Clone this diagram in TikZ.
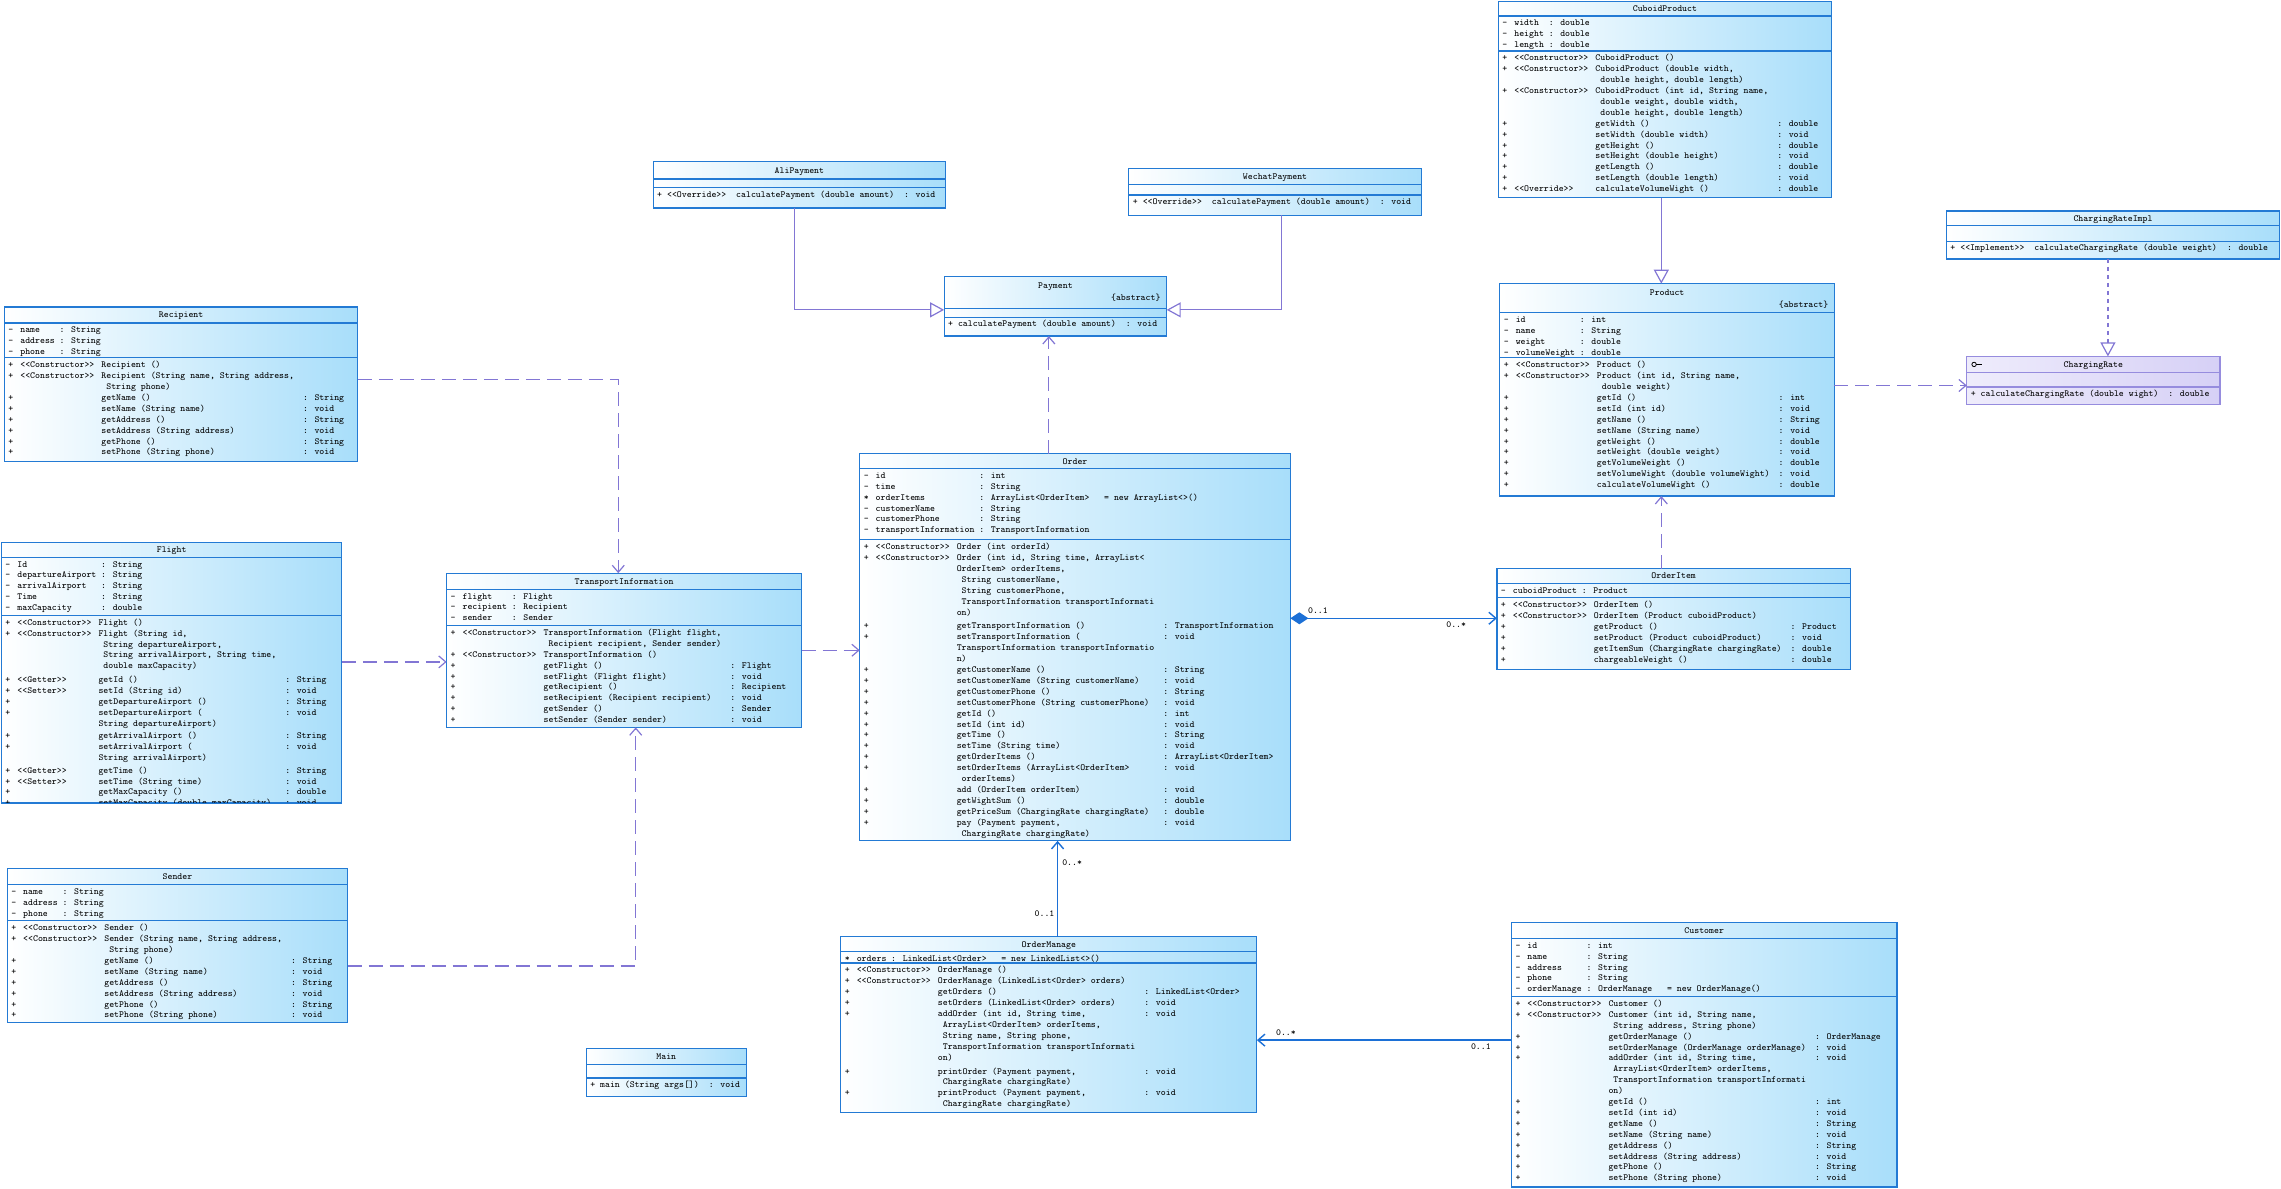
\documentclass[tikz,border=0pt]{standalone}
\usetikzlibrary{arrows.meta,fit}
\definecolor{clsborder}{RGB}{35,122,212}
\definecolor{clsfill}{RGB}{168,222,250}
\definecolor{genline}{RGB}{130,118,212}
\definecolor{assocline}{RGB}{28,112,214}
\definecolor{ifill}{RGB}{214,208,246}
\definecolor{iborder}{RGB}{150,140,222}
\newcommand\stp[1]{<\kern0pt<#1>\kern0pt>}
\newcommand\MR[4]{#1&#2&#3&#4\\}
\newcommand\MC[1]{&&#1&\\}
\newcommand\AR[3]{#1&#2&: #3&\\}
\newcommand\AI[4]{#1&#2&: #3&#4\\}
\newcommand\attrs[1]{\begin{tabular}{@{}l@{\hspace{3.5pt}}l@{\hspace{2.4pt}}l@{\hspace{7.3pt}}l@{}}#1\end{tabular}}
\newcommand\meths[1]{\begin{tabular}{@{}l@{\hspace{3.5pt}}l@{\hspace{3.5pt}}l@{\hspace{4.5pt}}l@{}}#1\end{tabular}}
\tikzset{
 cls/.style={inner sep=0pt, outer sep=0pt, draw=clsborder, line width=0.6pt, left color=white, right color=clsfill},
 icls/.style={inner sep=0pt, outer sep=0pt, draw=iborder, line width=0.6pt, left color=ifill!40!white, right color=ifill},
 clsline/.style={draw=clsborder, line width=0.6pt},
 iline/.style={draw=iborder, line width=0.6pt},
 txt/.style={font=\fontsize{4.65}{5.45}\selectfont\ttfamily, inner sep=0pt, text=black},
 gen/.style={draw=genline, line width=0.6pt, -{Triangle[open, length=7pt, width=7.5pt]}},
 dep/.style={draw=genline, line width=0.6pt, dash pattern=on 7pt off 3.5pt, -{Straight Barb[length=3.5pt, width=6pt]}},
 real/.style={draw=genline, line width=0.6pt, dash pattern=on 2.2pt off 1.8pt, -{Triangle[open, length=7pt, width=7.5pt]}},
 assoc/.style={draw=assocline, line width=0.7pt, -{Straight Barb[length=3.5pt, width=6pt]}},
 comp/.style={draw=assocline, line width=0.7pt, {Diamond[length=9pt, width=6pt]}-{Straight Barb[length=3.5pt, width=6pt]}},
}
\newcommand\umlbox[8][cls]{%
  \node[#1, fit={(#3,#4) (#5,#8)}] (#2) {};
  \draw[clsline] (#3,#6) -- (#5,#6) (#3,#7) -- (#5,#7);}
\newcommand\umlclass[9][cls]{%
  \umlbox[#1]{#2}{#3}{#4}{#5}{#6}{#7}{#8}%
  \node[txt, anchor=base] (#2-name) at ({(#3+#5)/2},{(#4+#6)/2+2}) {#9};}
\begin{document}
\begin{tikzpicture}[x=0.72736pt, y=-0.72736pt]
\useasboundingbox (0,0) rectangle (1568,817);

% ---------------- Recipient
\umlclass{rec}{3}{211}{246}{222}{246}{317}{Recipient}
\node[txt,anchor=north west] (rec-a) at (5.5,223.3) {\attrs{\AR{-}{name}{String}\AR{-}{address}{String}\AR{-}{phone}{String}}};
\node[txt,anchor=north west] (rec-m) at (5.5,247.3) {\meths{%
\MR{+}{\stp{Constructor}}{Recipient ()}{}
\MR{+}{\stp{Constructor}}{Recipient (String name, String address,}{}
\MC{\ String phone)}
\MR{+}{}{getName ()}{: String}
\MR{+}{}{setName (String name)}{: void}
\MR{+}{}{getAddress ()}{: String}
\MR{+}{}{setAddress (String address)}{: void}
\MR{+}{}{getPhone ()}{: String}
\MR{+}{}{setPhone (String phone)}{: void}}};

% ---------------- Flight
\umlclass{fl}{1}{373}{235}{383}{423}{552}{Flight}
\node[txt,anchor=north west] (fl-a) at (3.5,384.3) {\attrs{\AR{-}{Id}{String}\AR{-}{departureAirport}{String}\AR{-}{arrivalAirport}{String}\AR{-}{Time}{String}\AR{-}{maxCapacity}{double}}};
\begin{scope}
\clip (1,423) rectangle (235,551.5);
\node[txt,anchor=north west] (fl-m) at (3.5,424.3) {\meths{%
\MR{+}{\stp{Constructor}}{Flight ()}{}
\MR{+}{\stp{Constructor}}{Flight (String id,}{}
\MC{\ String departureAirport,}
\MC{\ String arrivalAirport, String time,}
&&\ double maxCapacity)&\\[1.5pt]
\MR{+}{\stp{Getter}}{getId ()}{: String}
\MR{+}{\stp{Setter}}{setId (String id)}{: void}
\MR{+}{}{getDepartureAirport ()}{: String}
\MR{+}{}{setDepartureAirport (}{: void}
&&String departureAirport)&\\[0.8pt]
\MR{+}{}{getArrivalAirport ()}{: String}
\MR{+}{}{setArrivalAirport (}{: void}
&&String arrivalAirport)&\\[0.8pt]
\MR{+}{\stp{Getter}}{getTime ()}{: String}
\MR{+}{\stp{Setter}}{setTime (String time)}{: void}
\MR{+}{}{getMaxCapacity ()}{: double}
\MR{+}{}{setMaxCapacity (double maxCapacity)}{: void}}};
\end{scope}

% ---------------- Sender
\umlclass{sen}{5}{597}{239}{608}{633}{703}{Sender}
\node[txt,anchor=north west] (sen-a) at (7.5,609.3) {\attrs{\AR{-}{name}{String}\AR{-}{address}{String}\AR{-}{phone}{String}}};
\node[txt,anchor=north west] (sen-m) at (7.5,634.3) {\meths{%
\MR{+}{\stp{Constructor}}{Sender ()}{}
\MR{+}{\stp{Constructor}}{Sender (String name, String address,}{}
\MC{\ String phone)}
\MR{+}{}{getName ()}{: String}
\MR{+}{}{setName (String name)}{: void}
\MR{+}{}{getAddress ()}{: String}
\MR{+}{}{setAddress (String address)}{: void}
\MR{+}{}{getPhone ()}{: String}
\MR{+}{}{setPhone (String phone)}{: void}}};

% ---------------- Main
\umlclass{main}{403}{721}{513}{732}{741}{754}{Main}
\node[txt,anchor=north west] (main-m) at (405.5,742.8) {+ main (String args[])~~: void};

% ---------------- TransportInformation
\umlclass{ti}{307}{394}{551}{405}{430}{500}{TransportInformation}
\node[txt,anchor=north west] (ti-a) at (309.5,406.3) {\attrs{\AR{-}{flight}{Flight}\AR{-}{recipient}{Recipient}\AR{-}{sender}{Sender}}};
\node[txt,anchor=north west] (ti-m) at (309.5,431.3) {\meths{%
\MR{+}{\stp{Constructor}}{TransportInformation (Flight flight,}{}
\MC{\ Recipient recipient, Sender sender)}
\MR{+}{\stp{Constructor}}{TransportInformation ()}{}
\MR{+}{}{getFlight ()}{: Flight}
\MR{+}{}{setFlight (Flight flight)}{: void}
\MR{+}{}{getRecipient ()}{: Recipient}
\MR{+}{}{setRecipient (Recipient recipient)}{: void}
\MR{+}{}{getSender ()}{: Sender}
\MR{+}{}{setSender (Sender sender)}{: void}}};

% ---------------- Payments
\umlclass{ali}{449}{111}{650}{123}{129}{143}{AliPayment}
\node[txt,anchor=north west] (ali-m) at (451.5,130.8) {+ \stp{Override}~~calculatePayment (double amount)~~: void};
\umlclass{wech}{776}{116}{977}{127}{134}{148}{WechatPayment}
\node[txt,anchor=north west] (wech-m) at (778.5,135.8) {+ \stp{Override}~~calculatePayment (double amount)~~: void};
\umlbox{pay}{649}{190}{802}{212}{218}{231}
\node[txt,anchor=base] (pay-name) at (725.5,198) {Payment};
\node[txt,anchor=base east] (pay-abs) at (798,206.5) {\{abstract\}};
\node[txt,anchor=north west] (pay-m) at (651.5,219.8) {+ calculatePayment (double amount)~~: void};

% ---------------- CuboidProduct
\umlclass{cub}{1030}{1}{1259}{11}{35}{136}{CuboidProduct}
\node[txt,anchor=north west] (cub-a) at (1032.5,12.3) {\attrs{\AR{-}{width}{double}\AR{-}{height}{double}\AR{-}{length}{double}}};
\node[txt,anchor=north west] (cub-m) at (1032.5,36.3) {\meths{%
\MR{+}{\stp{Constructor}}{CuboidProduct ()}{}
\MR{+}{\stp{Constructor}}{CuboidProduct (double width,}{}
\MC{\ double height, double length)}
\MR{+}{\stp{Constructor}}{CuboidProduct (int id, String name,}{}
\MC{\ double weight, double width,}
\MC{\ double height, double length)}
\MR{+}{}{getWidth ()}{: double}
\MR{+}{}{setWidth (double width)}{: void}
\MR{+}{}{getHeight ()}{: double}
\MR{+}{}{setHeight (double height)}{: void}
\MR{+}{}{getLength ()}{: double}
\MR{+}{}{setLength (double length)}{: void}
\MR{+}{\stp{Override}}{calculateVolumeWight ()}{: double}}};

% ---------------- Product
\umlbox{prod}{1031}{195}{1261}{215}{246}{341}
\node[txt,anchor=base] (prod-name) at (1146,203) {Product};
\node[txt,anchor=base east] (prod-abs) at (1257,211.5) {\{abstract\}};
\node[txt,anchor=north west] (prod-a) at (1033.5,216.3) {\attrs{\AR{-}{id}{int}\AR{-}{name}{String}\AR{-}{weight}{double}\AR{-}{volumeWeight}{double}}};
\node[txt,anchor=north west] (prod-m) at (1033.5,247.3) {\meths{%
\MR{+}{\stp{Constructor}}{Product ()}{}
\MR{+}{\stp{Constructor}}{Product (int id, String name,}{}
\MC{\ double weight)}
\MR{+}{}{getId ()}{: int}
\MR{+}{}{setId (int id)}{: void}
\MR{+}{}{getName ()}{: String}
\MR{+}{}{setName (String name)}{: void}
\MR{+}{}{getWeight ()}{: double}
\MR{+}{}{setWeight (double weight)}{: void}
\MR{+}{}{getVolumeWeight ()}{: double}
\MR{+}{}{setVolumeWight (double volumeWight)}{: void}
\MR{+}{}{calculateVolumeWight ()}{: double}}};

% ---------------- ChargingRateImpl / ChargingRate
\umlclass{cri}{1338}{145}{1567}{155}{166}{178}{ChargingRateImpl}
\node[txt,anchor=north west] (cri-m) at (1340.5,167.8) {+ \stp{Implement}~~calculateChargingRate (double weight)~~: double};
\node[icls, fit={(1352,245) (1526,278)}] (cr) {};
\draw[iline] (1352,256) -- (1526,256) (1352,266) -- (1526,266);
\node[txt,anchor=base] (cr-name) at (1439,252.5) {ChargingRate};
\draw[black, line width=0.4pt] (1357,250.5) circle[radius=1.1pt];
\draw[black, line width=0.4pt] (1358.6,250.5) -- (1362.5,250.5);
\node[txt,anchor=north west] (cr-m) at (1354.5,267.8) {+ calculateChargingRate (double wight)~~: double};

% ---------------- OrderItem
\umlclass{oi}{1029}{391}{1272}{401}{411}{460}{OrderItem}
\node[txt,anchor=north west] (oi-a) at (1031.5,402.3) {\attrs{\AR{-}{cuboidProduct}{Product}}};
\node[txt,anchor=north west] (oi-m) at (1031.5,412.3) {\meths{%
\MR{+}{\stp{Constructor}}{OrderItem ()}{}
\MR{+}{\stp{Constructor}}{OrderItem (Product cuboidProduct)}{}
\MR{+}{}{getProduct ()}{: Product}
\MR{+}{}{setProduct (Product cuboidProduct)}{: void}
\MR{+}{}{getItemSum (ChargingRate chargingRate)}{: double}
\MR{+}{}{chargeableWeight ()}{: double}}};

% ---------------- Order
\umlclass{order}{591}{312}{887}{322}{371}{578}{Order}
\node[txt,anchor=north west] (order-a) at (593.5,323.3) {\attrs{%
\AR{-}{id}{int}
\AR{-}{time}{String}
\AI{*}{orderItems}{ArrayList<OrderItem>}{= new ArrayList<>()}
\AR{-}{customerName}{String}
\AR{-}{customerPhone}{String}
\AR{-}{transportInformation}{TransportInformation}}};
\node[txt,anchor=north west] (order-m) at (593.5,372.3) {\meths{%
\MR{+}{\stp{Constructor}}{Order (int orderId)}{}
\MR{+}{\stp{Constructor}}{Order (int id, String time, ArrayList<}{}
\MC{OrderItem> orderItems,}
\MC{\ String customerName,}
\MC{\ String customerPhone,}
\MC{\ TransportInformation transportInformati}
&&on)&\\[1.5pt]
\MR{+}{}{getTransportInformation ()}{: TransportInformation}
\MR{+}{}{setTransportInformation (}{: void}
\MC{TransportInformation transportInformatio}
\MC{n)}
\MR{+}{}{getCustomerName ()}{: String}
\MR{+}{}{setCustomerName (String customerName)}{: void}
\MR{+}{}{getCustomerPhone ()}{: String}
\MR{+}{}{setCustomerPhone (String customerPhone)}{: void}
\MR{+}{}{getId ()}{: int}
\MR{+}{}{setId (int id)}{: void}
\MR{+}{}{getTime ()}{: String}
\MR{+}{}{setTime (String time)}{: void}
\MR{+}{}{getOrderItems ()}{: ArrayList<OrderItem>}
\MR{+}{}{setOrderItems (ArrayList<OrderItem>}{: void}
\MC{\ orderItems)}
\MR{+}{}{add (OrderItem orderItem)}{: void}
\MR{+}{}{getWightSum ()}{: double}
\MR{+}{}{getPriceSum (ChargingRate chargingRate)}{: double}
\MR{+}{}{pay (Payment payment,}{: void}
\MC{\ ChargingRate chargingRate)}}};

% ---------------- OrderManage
\umlclass{om}{578}{644}{864}{654}{662}{765}{OrderManage}
\node[txt,anchor=north west] (om-a) at (580.5,655.3) {\attrs{\AI{*}{orders}{LinkedList<Order>}{= new LinkedList<>()}}};
\node[txt,anchor=north west] (om-m) at (580.5,663.3) {\meths{%
\MR{+}{\stp{Constructor}}{OrderManage ()}{}
\MR{+}{\stp{Constructor}}{OrderManage (LinkedList<Order> orders)}{}
\MR{+}{}{getOrders ()}{: LinkedList<Order>}
\MR{+}{}{setOrders (LinkedList<Order> orders)}{: void}
\MR{+}{}{addOrder (int id, String time,}{: void}
\MC{\ ArrayList<OrderItem> orderItems,}
\MC{\ String name, String phone,}
\MC{\ TransportInformation transportInformati}
&&on)&\\[1.5pt]
\MR{+}{}{printOrder (Payment payment,}{: void}
\MC{\ ChargingRate chargingRate)}
\MR{+}{}{printProduct (Payment payment,}{: void}
\MC{\ ChargingRate chargingRate)}}};

% ---------------- Customer
\umlclass{cu}{1039}{634}{1304}{645}{685}{816}{Customer}
\node[txt,anchor=north west] (cu-a) at (1041.5,646.3) {\attrs{%
\AR{-}{id}{int}
\AR{-}{name}{String}
\AR{-}{address}{String}
\AR{-}{phone}{String}
\AI{-}{orderManage}{OrderManage}{= new OrderManage()}}};
\node[txt,anchor=north west] (cu-m) at (1041.5,686.3) {\meths{%
\MR{+}{\stp{Constructor}}{Customer ()}{}
\MR{+}{\stp{Constructor}}{Customer (int id, String name,}{}
\MC{\ String address, String phone)}
\MR{+}{}{getOrderManage ()}{: OrderManage}
\MR{+}{}{setOrderManage (OrderManage orderManage)}{: void}
\MR{+}{}{addOrder (int id, String time,}{: void}
\MC{\ ArrayList<OrderItem> orderItems,}
\MC{\ TransportInformation transportInformati}
\MC{on)}
\MR{+}{}{getId ()}{: int}
\MR{+}{}{setId (int id)}{: void}
\MR{+}{}{getName ()}{: String}
\MR{+}{}{setName (String name)}{: void}
\MR{+}{}{getAddress ()}{: String}
\MR{+}{}{setAddress (String address)}{: void}
\MR{+}{}{getPhone ()}{: String}
\MR{+}{}{setPhone (String phone)}{: void}}};

% ---------------- connectors
\coordinate (j1) at (546,213);
\draw[gen] (ali.south -| j1) |- (pay.west |- j1);
\coordinate (j2) at (881,213);
\draw[gen] (wech.south -| j2) |- (pay.east |- j2);
\coordinate (j3) at (721,0);
\draw[dep] (order.north -| j3) -- (pay.south -| j3);
\coordinate (j4) at (1142,0);
\draw[gen] (cub.south -| j4) -- (prod.north -| j4);
\draw[dep] (oi.north -| j4) -- (prod.south -| j4);
\coordinate (j5) at (1449,0);
\draw[real] (cri.south -| j5) -- (cr.north -| j5);
\coordinate (j6) at (0,265);
\draw[dep] (prod.east |- j6) -- (cr.west |- j6);
\coordinate (j7) at (0,425);
\draw[comp] (order.east |- j7) -- (oi.west |- j7);
\coordinate (j8) at (425,261);
\draw[dep] (rec.east |- j8) -| (ti.north -| j8);
\coordinate (j9) at (0,455);
\draw[dep] (fl.east |- j9) -- (ti.west |- j9);
\coordinate (j10) at (437,664);
\draw[dep] (sen.east |- j10) -| (ti.south -| j10);
\coordinate (j11) at (0,447);
\draw[dep] (ti.east |- j11) -- (order.west |- j11);
\coordinate (j12) at (727,0);
\draw[assoc] (om.north -| j12) -- (order.south -| j12);
\coordinate (j13) at (0,715);
\draw[assoc] (cu.west |- j13) -- (om.east |- j13);

% multiplicities
\node[txt] (m1) at (906,420) {0..1};
\node[txt] (m2) at (1001,429.5) {0..*};
\node[txt] (m3) at (737,593) {0..*};
\node[txt] (m4) at (718,628) {0..1};
\node[txt] (m5) at (884,710) {0..*};
\node[txt] (m6) at (1018,719.5) {0..1};
\end{tikzpicture}
\end{document}
